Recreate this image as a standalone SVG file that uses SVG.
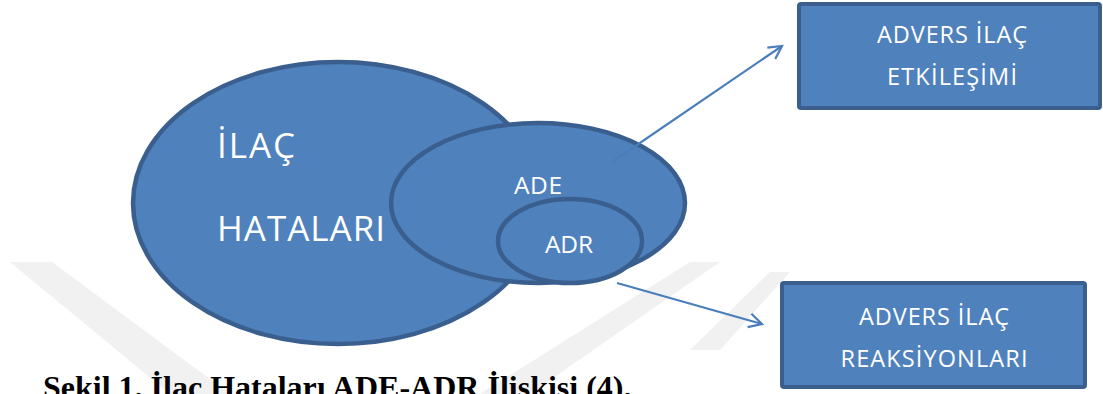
<svg xmlns="http://www.w3.org/2000/svg" width="1103" height="394" viewBox="0 0 1103 394">
  <style>
    .shape { fill: #4f81bd; stroke: #3a5f8e; stroke-width: 4.5; }
    .box { fill: #4f81bd; stroke: #3a5f8e; stroke-width: 4; }
    .lbl { fill: #ffffff; font-family: "Open Sans", "Noto Sans", sans-serif; }
    .conn { stroke: #4a7ebb; stroke-width: 2.2; fill: none; }
    .wm { fill: #f1f1f1; }
  </style>
  <defs>
    <marker id="arrow" viewBox="0 0 14 14" refX="13" refY="7" markerWidth="14" markerHeight="14" markerUnits="userSpaceOnUse" orient="auto" overflow="visible">
      <path d="M0,0 L13,7 L0,14" fill="none" stroke="#4a7ebb" stroke-width="2.2"/>
    </marker>
  </defs>
  <rect width="1103" height="394" fill="#ffffff"/>
  <g id="watermark">
    <polygon class="wm" points="10,262 52,262 230,394 170,394"/>
    <polygon class="wm" points="480,394 530,394 720,262 690,262"/>
    <polygon class="wm" points="690,350 720,350 790,272 770,272"/>
  </g>
  <g id="ilac-hatalari">
    <ellipse class="shape" cx="338" cy="203" rx="205" ry="141"/>
    <text class="lbl" x="217" y="158" font-size="35" textLength="78" lengthAdjust="spacing">İLAÇ</text>
    <text class="lbl" x="217" y="241" font-size="35" textLength="168" lengthAdjust="spacing">HATALARI</text>
  </g>
  <g id="ade">
    <ellipse class="shape" cx="538" cy="203" rx="147" ry="80"/>
    <text class="lbl" x="514" y="194" font-size="24.5" textLength="48" lengthAdjust="spacing">ADE</text>
  </g>
  <g id="adr">
    <ellipse class="shape" cx="570" cy="241" rx="72" ry="42"/>
    <text class="lbl" x="545" y="253" font-size="24.5" textLength="48" lengthAdjust="spacing">ADR</text>
  </g>
  <g id="connectors">
    <line class="conn" x1="612" y1="162" x2="782" y2="46" marker-end="url(#arrow)"/>
    <line class="conn" x1="617" y1="283" x2="762" y2="324" marker-end="url(#arrow)"/>
  </g>
  <g id="advers-ilac-etkilesimi">
    <rect class="box" x="799" y="4" width="301" height="104" rx="2"/>
    <text class="lbl" x="952" y="43" font-size="23.5" text-anchor="middle" textLength="150" lengthAdjust="spacing">ADVERS İLAÇ</text>
    <text class="lbl" x="952" y="85" font-size="23.5" text-anchor="middle" textLength="130" lengthAdjust="spacing">ETKİLEŞİMİ</text>
  </g>
  <g id="advers-ilac-reaksiyonlari">
    <rect class="box" x="782" y="283" width="303" height="104" rx="2"/>
    <text class="lbl" x="934" y="325" font-size="23.5" text-anchor="middle" textLength="150" lengthAdjust="spacing">ADVERS İLAÇ</text>
    <text class="lbl" x="934" y="367" font-size="23.5" text-anchor="middle" textLength="187" lengthAdjust="spacing">REAKSİYONLARI</text>
  </g>
  <g id="caption">
    <text x="43" y="398" font-family="Liberation Serif, serif" font-weight="bold" font-size="32" fill="#000000">Şekil 1. İlaç Hataları ADE-ADR İlişkisi (4).</text>
  </g>
</svg>
